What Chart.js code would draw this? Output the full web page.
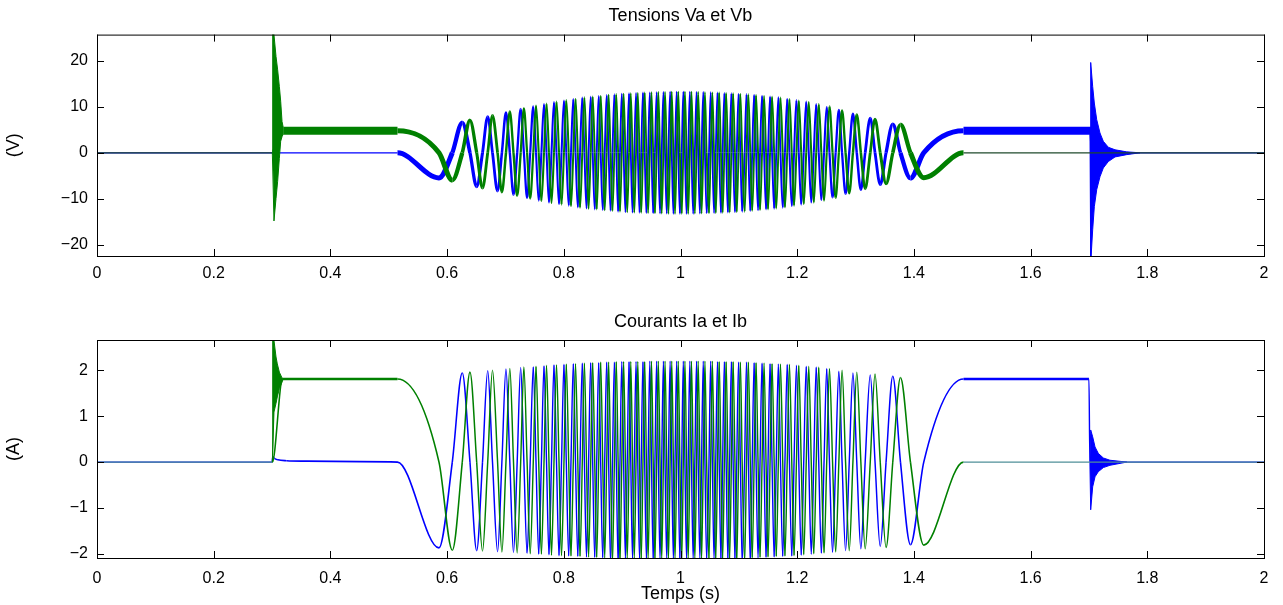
<!DOCTYPE html>
<html>
<head>
<meta charset="utf-8">
<script src="https://cdn.jsdelivr.net/npm/chart.js@4.4.1/dist/chart.umd.min.js"></script>
<style>
  html, body { margin: 0; padding: 0; background: #fff; }
  canvas { position: absolute; left: 0; }
  #vChart { top: 0; }
  #iChart { top: 300px; }
</style>
</head>
<body>
<canvas id="vChart" width="1283" height="300"></canvas>
<canvas id="iChart" width="1283" height="305"></canvas>
<script>
// tick values
const xTickVals = [0, 0.2, 0.4, 0.6, 0.8, 1, 1.2, 1.4, 1.6, 1.8, 2];
const vTickVals = [-20, -10, 0, 10, 20];
const aTickVals = [-2, -1, 0, 1, 2];

const tq = [
  0.5150, 0.5861, 0.6089, 0.6260, 0.6392, 0.6507, 0.6607, 0.6696, 0.6778, 0.6865,
  0.6939, 0.7009, 0.7075, 0.7138, 0.7201, 0.7261, 0.7316, 0.7371, 0.7424, 0.7477,
  0.7524, 0.7570, 0.7616, 0.7661, 0.7704, 0.7746, 0.7789, 0.7832, 0.7875, 0.7918,
  0.7961, 0.8003, 0.8043, 0.8084, 0.8123, 0.8163, 0.8201, 0.8240, 0.8278, 0.8317,
  0.8353, 0.8389, 0.8425, 0.8461, 0.8495, 0.8530, 0.8564, 0.8598, 0.8632, 0.8667,
  0.8701, 0.8735, 0.8768, 0.8801, 0.8834, 0.8867, 0.8899, 0.8931, 0.8963, 0.8994,
  0.9025, 0.9056, 0.9087, 0.9118, 0.9148, 0.9178, 0.9208, 0.9238, 0.9268, 0.9298,
  0.9327, 0.9357, 0.9386, 0.9416, 0.9445, 0.9474, 0.9503, 0.9532, 0.9562, 0.9591,
  0.9620, 0.9649, 0.9678, 0.9707, 0.9735, 0.9764, 0.9793, 0.9822, 0.9850, 0.9878,
  0.9906, 0.9934, 0.9962, 0.9989,
  1.0021, 1.0048, 1.0076, 1.0104, 1.0132, 1.0160,
  1.0188, 1.0217, 1.0246, 1.0275, 1.0303, 1.0332, 1.0361, 1.0390, 1.0419, 1.0448,
  1.0488, 1.0517, 1.0546, 1.0575, 1.0604, 1.0634, 1.0663, 1.0693, 1.0722, 1.0752,
  1.0782, 1.0812, 1.0842, 1.0872, 1.0902, 1.0933, 1.0964, 1.0995, 1.1026, 1.1057,
  1.1099, 1.1131, 1.1163, 1.1196, 1.1229, 1.1262, 1.1295, 1.1329, 1.1363, 1.1398,
  1.1432, 1.1466, 1.1500, 1.1535, 1.1569, 1.1605, 1.1641, 1.1677, 1.1713, 1.1752,
  1.1790, 1.1829, 1.1867, 1.1907, 1.1946, 1.1987, 1.2027, 1.2069, 1.2112, 1.2155,
  1.2198, 1.2241, 1.2284, 1.2326, 1.2369, 1.2414, 1.2460, 1.2506, 1.2553, 1.2606,
  1.2659, 1.2714, 1.2769, 1.2829, 1.2892, 1.2955, 1.3021, 1.3091, 1.3165, 1.3252,
  1.3334, 1.3423, 1.3523, 1.3638, 1.3770, 1.3941, 1.4169, 1.4850
];

// current Ia (A) at each quarter instant
const iaQ = [
  0, -1.87, 0, 1.94, 0, -1.93, 0, 1.99,
  0, -1.95, 0, 2.03, 0, -1.97, 0, 2.06,
  0, -1.99, 0, 2.08, 0, -2.01, 0, 2.10,
  0, -2.02, 0, 2.12, 0, -2.04, 0, 2.13,
  0, -2.05, 0, 2.15, 0, -2.06, 0, 2.16,
  0, -2.07, 0, 2.17, 0, -2.08, 0, 2.17,
  0, -2.09, 0, 2.18, 0, -2.10, 0, 2.18,
  0, -2.10, 0, 2.19, 0, -2.11, 0, 2.19,
  0, -2.11, 0, 2.19, 0, -2.11, 0, 2.19,
  0, -2.11, 0, 2.20, 0, -2.12, 0, 2.20,
  0, -2.12, 0, 2.20, 0, -2.12, 0, 2.20,
  0, -2.12, 0, 2.20, 0, -2.12, 0, 2.20,
  0, -2.12, 0, 2.20, 0, -2.12, 0, 2.20,
  0, -2.12, 0, 2.20, 0, -2.12, 0, 2.20,
  0, -2.12, 0, 2.19, 0, -2.11, 0, 2.19,
  0, -2.11, 0, 2.19, 0, -2.11, 0, 2.18,
  0, -2.10, 0, 2.18, 0, -2.10, 0, 2.17,
  0, -2.09, 0, 2.16, 0, -2.08, 0, 2.15,
  0, -2.07, 0, 2.14, 0, -2.06, 0, 2.13,
  0, -2.05, 0, 2.11, 0, -2.03, 0, 2.09,
  0, -2.01, 0, 2.07, 0, -1.99, 0, 2.04,
  0, -1.97, 0, 1.98, 0, -1.93, 0, 1.94,
  0, -1.89, 0, 1.90, 0, -1.84, 0, 1.87,
  0, -1.80, 0, 1.81
];

// current Ib (A) at each quarter instant
const ibQ = [
  1.81, 0, -1.92, 0, 1.96, 0, -1.94, 0,
  2.00, 0, -1.96, 0, 2.04, 0, -1.98, 0,
  2.07, 0, -2.00, 0, 2.09, 0, -2.01, 0,
  2.11, 0, -2.03, 0, 2.12, 0, -2.04, 0,
  2.14, 0, -2.05, 0, 2.15, 0, -2.06, 0,
  2.16, 0, -2.07, 0, 2.17, 0, -2.08, 0,
  2.18, 0, -2.09, 0, 2.18, 0, -2.10, 0,
  2.19, 0, -2.10, 0, 2.19, 0, -2.11, 0,
  2.19, 0, -2.11, 0, 2.19, 0, -2.11, 0,
  2.19, 0, -2.12, 0, 2.20, 0, -2.12, 0,
  2.20, 0, -2.12, 0, 2.20, 0, -2.12, 0,
  2.20, 0, -2.12, 0, 2.20, 0, -2.12, 0,
  2.20, 0, -2.12, 0, 2.20, 0, -2.12, 0,
  2.20, 0, -2.12, 0, 2.20, 0, -2.12, 0,
  2.20, 0, -2.11, 0, 2.19, 0, -2.11, 0,
  2.19, 0, -2.11, 0, 2.19, 0, -2.10, 0,
  2.18, 0, -2.10, 0, 2.18, 0, -2.09, 0,
  2.17, 0, -2.08, 0, 2.16, 0, -2.07, 0,
  2.15, 0, -2.06, 0, 2.14, 0, -2.05, 0,
  2.13, 0, -2.04, 0, 2.11, 0, -2.02, 0,
  2.09, 0, -2.00, 0, 2.07, 0, -1.98, 0,
  2.04, 0, -1.96, 0, 2.00, 0, -1.93, 0,
  1.96, 0, -1.89, 0, 1.92, 0, -1.86, 0,
  1.84, 0, -1.81, 0
];

// voltage Va (V) at each quarter instant
const vaQ = [
  0, -5.45, 0, 6.55, 0, -7.35, 0, 7.85,
  0, -8.3, 0, 8.75, 0, -9.1, 0, 9.5,
  0, -9.8, 0, 10.1, 0, -10.4, 0, 10.6,
  0, -10.8, 0, 11.0, 0, -11.15, 0, 11.35,
  0, -11.5, 0, 11.7, 0, -11.85, 0, 12.0,
  0, -12.1, 0, 12.2, 0, -12.3, 0, 12.35,
  0, -12.45, 0, 12.55, 0, -12.6, 0, 12.7,
  0, -12.8, 0, 12.85, 0, -12.9, 0, 12.95,
  0, -13.0, 0, 13.0, 0, -13.05, 0, 13.1,
  0, -13.1, 0, 13.1, 0, -13.15, 0, 13.15,
  0, -13.2, 0, 13.2, 0, -13.2, 0, 13.25,
  0, -13.25, 0, 13.25, 0, -13.25, 0, 13.25,
  0, -13.25, 0, 13.25, 0, -13.25, 0, 13.2,
  0, -13.2, 0, 13.2, 0, -13.15, 0, 13.15,
  0, -13.1, 0, 13.1, 0, -13.05, 0, 13.0,
  0, -13.0, 0, 12.95, 0, -12.9, 0, 12.85,
  0, -12.8, 0, 12.75, 0, -12.65, 0, 12.6,
  0, -12.5, 0, 12.4, 0, -12.3, 0, 12.25,
  0, -12.15, 0, 12.05, 0, -11.95, 0, 11.75,
  0, -11.6, 0, 11.45, 0, -11.25, 0, 11.1,
  0, -10.8, 0, 10.6, 0, -10.3, 0, 10.0,
  0, -9.7, 0, 9.3, 0, -8.9, 0, 8.5,
  0, -8.0, 0, 7.5, 0, -6.9, 0, 6.2,
  0, -5.5, 0, 4.8
];

// voltage Vb (V) at each quarter instant
const vbQ = [
  4.8, 0, -5.95, 0, 7.05, 0, -7.65, 0,
  8.1, 0, -8.55, 0, 8.95, 0, -9.3, 0,
  9.65, 0, -9.95, 0, 10.25, 0, -10.5, 0,
  10.7, 0, -10.9, 0, 11.1, 0, -11.25, 0,
  11.45, 0, -11.6, 0, 11.75, 0, -11.95, 0,
  12.05, 0, -12.15, 0, 12.25, 0, -12.3, 0,
  12.4, 0, -12.5, 0, 12.6, 0, -12.65, 0,
  12.75, 0, -12.8, 0, 12.85, 0, -12.9, 0,
  12.95, 0, -13.0, 0, 13.0, 0, -13.05, 0,
  13.1, 0, -13.1, 0, 13.15, 0, -13.15, 0,
  13.2, 0, -13.2, 0, 13.2, 0, -13.25, 0,
  13.25, 0, -13.25, 0, 13.25, 0, -13.25, 0,
  13.25, 0, -13.25, 0, 13.25, 0, -13.2, 0,
  13.2, 0, -13.2, 0, 13.15, 0, -13.15, 0,
  13.1, 0, -13.1, 0, 13.1, 0, -13.05, 0,
  13.0, 0, -13.0, 0, 12.95, 0, -12.9, 0,
  12.85, 0, -12.8, 0, 12.7, 0, -12.6, 0,
  12.55, 0, -12.45, 0, 12.35, 0, -12.3, 0,
  12.2, 0, -12.1, 0, 12.0, 0, -11.85, 0,
  11.7, 0, -11.5, 0, 11.35, 0, -11.15, 0,
  11.0, 0, -10.8, 0, 10.6, 0, -10.4, 0,
  10.1, 0, -9.8, 0, 9.2, 0, -8.8, 0,
  8.3, 0, -7.8, 0, 7.3, 0, -6.7, 0,
  6.1, 0, -5.4, 0
];

// before / after the move
const iaPreT = [0, 0.3, 0.3012, 0.304, 0.31, 0.325, 0.36, 0.45];
const iaPreV = [0, 0, 0.12, 0.08, 0.05, 0.03, 0.02, 0.01];
const iaPostT = [1.7, 1.7016, 2];
const iaPostV = [1.81, 0, 0];
const ibPreT = [0, 0.3005, 0.318, 0.4];
const ibPreV = [0, 0, 1.81, 1.81];
const ibPostT = [1.7, 2];
const ibPostV = [0, 0];

const vaPreT = [0, 0.4];
const vaPreV = [0, 0];
const vaPostT = [1.6, 1.7018, 1.705, 2];
const vaPostV = [4.8, 4.8, 0, 0];
const vbPreT = [0, 0.3005, 0.319, 0.4];
const vbPreV = [0, 0, 4.8, 4.8];
const vbPostT = [1.7, 2];
const vbPostV = [0, 0];

// switching transients: upper / lower envelopes of the ringing
const ibRingT = [0.3005, 0.3011, 0.3033, 0.3068, 0.3090, 0.3125, 0.3165, 0.3190];
const ibRingHi = [0, 2.75, 2.65, 2.29, 2.14, 1.96, 1.85, 1.81];
const ibRingLo = [0, 0, 1.09, 1.28, 1.42, 1.60, 1.72, 1.81];
const iaRingT = [1.7016, 1.7030, 1.7064, 1.7104, 1.7160, 1.7246, 1.7360, 1.7650];
const iaRingHi = [0, 0.70, 0.55, 0.33, 0.19, 0.09, 0.04, 0];
const iaRingLo = [0, -1.04, -0.54, -0.32, -0.21, -0.12, -0.07, 0];

const vbRingT = [0.3005, 0.3011, 0.3033, 0.3068, 0.3096, 0.3125, 0.3148, 0.3171, 0.3190];
const vbRingHi = [0, 27, 25.6, 20.9, 18.0, 14.4, 11.2, 6.8, 5.6];
const vbRingLo = [0, 0, -14.8, -9.9, -6.2, -1.2, 2.5, 3.5, 4.0];
const vaRingT = [1.7018, 1.7030, 1.7064, 1.7092, 1.7133, 1.7189, 1.7246, 1.7332, 1.7447, 1.7647, 1.7875];
const vaRingHi = [5.6, 19.6, 14.4, 10.8, 7.2, 4.3, 2.5, 1.2, 0.65, 0.2, 0];
const vaRingLo = [4.0, -24, -16.7, -11.7, -8.0, -5.2, -3.3, -1.9, -0.9, -0.4, 0];

const BLUE = '#0000ff';
const GREEN = '#008000';
const FAMILY = '"Liberation Sans", Arial, Helvetica, sans-serif';
const FONT = { family: FAMILY, size: 16 };
const LABEL_FONT = { family: FAMILY, size: 18 };

function pts(ts, vs) {
  return ts.map((t, i) => ({ x: t, y: vs[i] }));
}

function wave(preT, preV, q, postT, postV) {
  return pts(preT, preV).concat(pts(tq, q), pts(postT, postV));
}

// s.flat: width of the flat non-zero parts, s.min/s.max/s.k: moving parts get
// thicker where the turns are slow (wide segments), as the PWM band does
function lineSet(data, color, s, zeroColor) {
  return {
    data, borderColor: color, borderWidth: s.min, pointRadius: 0,
    cubicInterpolationMode: 'monotone', fill: false, clip: 0,
    segment: {
      borderWidth: c => {
        const a = c.p0.parsed.y, b = c.p1.parsed.y;
        if (a === b) return a === 0 ? 1.2 : s.flat;
        const dx = Math.abs(c.p1.x - c.p0.x);
        return Math.min(s.max, Math.max(s.min, s.min + s.k * (dx - 1.7)));
      },
      borderColor: c => {
        const a = c.p0.parsed.y, b = c.p1.parsed.y;
        return (a === 0 && b === 0 && zeroColor) ? zeroColor : color;
      }
    }
  };
}

function ringSet(ts, vs, color, fill) {
  return {
    data: pts(ts, vs), borderColor: color, backgroundColor: color,
    borderWidth: 1, pointRadius: 0, fill, clip: 0
  };
}

// box + inward ticks like the original figure
const boxPlugin = {
  id: 'box',
  afterDraw(chart) {
    const { ctx, chartArea: a, scales: { x, y } } = chart;
    ctx.save();
    ctx.strokeStyle = '#000';
    ctx.lineWidth = 1;
    ctx.strokeRect(a.left + 0.5, a.top + 0.5, a.right - a.left, a.bottom - a.top);
    ctx.beginPath();
    x.ticks.forEach(t => {
      const px = Math.round(x.getPixelForValue(t.value)) + 0.5;
      ctx.moveTo(px, a.bottom); ctx.lineTo(px, a.bottom - 7);
      ctx.moveTo(px, a.top); ctx.lineTo(px, a.top + 7);
    });
    y.ticks.forEach(t => {
      const py = Math.round(y.getPixelForValue(t.value)) + 0.5;
      ctx.moveTo(a.left, py); ctx.lineTo(a.left + 7, py);
      ctx.moveTo(a.right, py); ctx.lineTo(a.right - 7, py);
    });
    ctx.stroke();
    ctx.restore();
  }
};

function makeChart(id, o) {
  return new Chart(document.getElementById(id), {
    type: 'line',
    data: { datasets: o.datasets },
    options: {
      responsive: false,
      animation: false,
      devicePixelRatio: 1,
      layout: { padding: { left: 0, right: 19, top: 0, bottom: 0 } },
      plugins: {
        legend: { display: false },
        tooltip: { enabled: false },
        title: {
          display: true, text: o.title, fullSize: false, color: '#000',
          font: { ...LABEL_FONT, weight: 'normal' }, padding: o.titlePad
        }
      },
      scales: {
        x: {
          type: 'linear', min: 0, max: 2,
          grid: { display: false }, border: { display: false },
          afterBuildTicks: s => { s.ticks = xTickVals.map(v => ({ value: v })); },
          afterFit: s => { s.height = o.xHeight; },
          ticks: {
            color: '#000', font: FONT, padding: o.xTickPad, maxRotation: 0, autoSkip: false,
            callback: v => String(+v.toFixed(1))
          },
          title: o.xTitle
            ? { display: true, text: o.xTitle, color: '#000', font: LABEL_FONT, padding: { top: 0, bottom: 0 } }
            : { display: false }
        },
        y: {
          type: 'linear', min: o.yMin, max: o.yMax,
          grid: { display: false }, border: { display: false },
          afterBuildTicks: s => { s.ticks = o.yTicks.map(v => ({ value: v })); },
          afterFit: s => { s.width = 97; },
          ticks: {
            color: '#000', font: FONT, padding: 1,
            callback: v => String(v).replace('-', '\u2212')
          },
          title: { display: true, text: o.yTitle, color: '#000', font: LABEL_FONT, padding: { top: 3, bottom: 0 } }
        }
      }
    },
    plugins: [boxPlugin]
  });
}

const vStyle = { flat: 8, min: 1.8, max: 5, k: 0.3 };
const iStyle = { flat: 2.5, min: 1.4, max: 1.6, k: 0.02 };

makeChart('vChart', {
  title: 'Tensions Va et Vb',
  titlePad: { top: 5, bottom: 8 },
  yTitle: '(V)', yMin: -22.4, yMax: 25.65, yTicks: vTickVals,
  xHeight: 44, xTickPad: 0,
  datasets: [
    ringSet(vbRingT, vbRingHi, GREEN, '+1'),
    ringSet(vbRingT, vbRingLo, GREEN, false),
    lineSet(wave(vbPreT, vbPreV, vbQ, vbPostT, vbPostV), GREEN, vStyle, '#1f4a2c'),
    lineSet(wave(vaPreT, vaPreV, vaQ, vaPostT, vaPostV), BLUE, vStyle),
    ringSet(vaRingT, vaRingHi, BLUE, '+1'),
    ringSet(vaRingT, vaRingLo, BLUE, false)
  ]
});

makeChart('iChart', {
  title: 'Courants Ia et Ib',
  titlePad: { top: 11, bottom: 7.4 },
  yTitle: '(A)', yMin: -2.09, yMax: 2.66, yTicks: aTickVals,
  xHeight: 47, xTickPad: 3, xTitle: 'Temps (s)',
  datasets: [
    ringSet(ibRingT, ibRingHi, GREEN, '+1'),
    ringSet(ibRingT, ibRingLo, GREEN, false),
    lineSet(wave(ibPreT, ibPreV, ibQ, ibPostT, ibPostV), GREEN, iStyle, '#4f8f98'),
    lineSet(wave(iaPreT, iaPreV, iaQ, iaPostT, iaPostV), BLUE, iStyle),
    ringSet(iaRingT, iaRingHi, BLUE, '+1'),
    ringSet(iaRingT, iaRingLo, BLUE, false)
  ]
});
</script>
</body>
</html>
